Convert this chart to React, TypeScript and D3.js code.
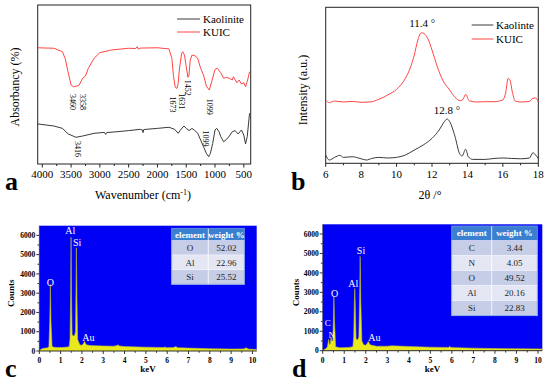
import React from 'react';
import * as d3 from 'd3';

// ---------- Panel a: FTIR ----------
const irTicks = [4000, 3500, 3000, 2500, 2000, 1500, 1000, 500];
const irKUIC: [number, number][] = [
  [4080, 73.1], [3800, 72.8], [3650, 70.6], [3600, 66], [3560, 59], [3500, 49.7], [3460, 48.6], [3400, 49],
  [3358, 49.7], [3300, 53.9], [3250, 55.3], [3200, 60.2], [3100, 66.5], [3000, 70], [2800, 71.7],
  [2500, 72.8], [2380, 72.6], [2350, 73.8], [2330, 72.2], [2300, 72.9], [2000, 73.1], [1800, 72.4],
  [1750, 66.5], [1720, 54.9], [1690, 48.2], [1660, 47.6], [1640, 50.7], [1620, 59.1], [1580, 69.6],
  [1560, 70.6], [1530, 68.5], [1500, 61.2], [1470, 54.5], [1452, 56], [1430, 65.4], [1400, 68.5],
  [1350, 68.1], [1300, 66.5], [1250, 60.2], [1200, 56], [1150, 49], [1099, 46.5], [1050, 52.8],
  [1000, 59.5], [960, 60.2], [900, 57.4], [850, 53.9], [800, 54.5], [750, 53.9], [700, 52.8],
  [680, 54.9], [620, 51.1], [580, 52.8], [540, 50.3], [500, 51.1], [470, 48.6], [440, 51.8], [400, 58],
];
const irKaolinite: [number, number][] = [
  [4080, 25.2], [3800, 23.9], [3650, 22.4], [3550, 18.9], [3416, 16.8], [3300, 17.6], [3100, 19.3],
  [2920, 19.9], [2900, 18.6], [2880, 19.8], [2700, 20.3], [2500, 21], [2300, 21.8], [2260, 21.4],
  [2250, 19.7], [2240, 21.6], [2200, 21.8], [2000, 22.4], [1800, 23.1], [1700, 21.8], [1640, 19.3],
  [1600, 21.4], [1540, 23.9], [1500, 22.4], [1450, 21], [1400, 22.4], [1350, 21], [1300, 19.3],
  [1250, 15.1], [1200, 10.9], [1150, 6.7], [1110, 4.6], [1080, 6.7], [1040, 13], [1000, 21.4],
  [970, 22.4], [930, 20.3], [900, 17.2], [850, 14], [800, 15.5], [750, 17.6], [700, 20.3],
  [650, 21], [600, 18.9], [540, 21.4], [500, 18.2], [470, 12.6], [440, 17.2], [400, 31.9],
];
const irKUICLabels: [string, number, number][] = [
  ['3460', 3470, 44], ['3358', 3290, 44], ['1673', 1730, 42.5], ['1631', 1580, 44.5],
  ['1452', 1470, 53], ['1099', 1090, 41],
];
const irKaoLabels: [string, number, number][] = [['3416', 3380, 14.5], ['1099', 1160, 21]];

// ---------- Panel b: XRD ----------
const xrdTicks = [6, 8, 10, 12, 14, 16, 18];
const xrdKUIC: [number, number][] = [
  [6.0, 40.6], [6.2, 38.9], [6.5, 39.9], [7.0, 39.3], [7.5, 39.7], [8.0, 39.1], [8.5, 39.3], [9.0, 41],
  [9.5, 43.8], [10.0, 47.4], [10.5, 54.5], [10.8, 62], [11.0, 69.4], [11.2, 79], [11.4, 83.7],
  [11.6, 82.7], [11.8, 79], [12.0, 72.6], [12.3, 61.9], [12.6, 53.4], [13.0, 47], [13.3, 42.3],
  [13.6, 40.1], [13.75, 41], [13.9, 44.2], [14.1, 40.1], [14.5, 39.3], [15.0, 39.5], [15.5, 39.5],
  [16.0, 40.6], [16.15, 44.8], [16.3, 54.5], [16.4, 53.4], [16.55, 44.8], [16.7, 39.9], [17.0, 39.3],
  [17.5, 39.7], [17.7, 41.7], [17.85, 41.9], [18.0, 39.3],
];
const xrdKaolinite: [number, number][] = [
  [6.0, 5.3], [6.2, 2.1], [6.5, 3.8], [6.8, 5.1], [7.0, 3.8], [7.5, 4.2], [8.0, 2.9], [8.3, 2.1],
  [8.6, 3.1], [9.0, 3.8], [9.5, 3.4], [10.0, 3.8], [10.5, 5.3], [11.0, 8.5], [11.5, 11.7], [12.0, 16],
  [12.4, 21.3], [12.7, 26.7], [12.85, 28.4], [13.0, 26.7], [13.3, 17.1], [13.55, 6.4], [13.7, 4.7],
  [13.9, 9], [14.05, 4.2], [14.3, 2.5], [15.0, 2.5], [15.5, 3.1], [16.0, 3.4], [16.5, 3.1], [17.0, 2.9],
  [17.5, 3.4], [17.7, 6.8], [17.85, 5.3], [18.0, 3.1],
];

// ---------- Panels c, d: EDS ----------
const edsXTicks = [0, 1, 2, 3, 4, 5, 6, 7, 8, 9, 10];
const edsYTicks = [0, 1000, 2000, 3000, 4000, 5000, 6000];
const edsC: [number, number][] = [
  [0, 0], [0.05, 60], [0.1, 100], [0.2, 140], [0.3, 150], [0.4, 170], [0.45, 230], [0.49, 1500],
  [0.52, 3450], [0.55, 1500], [0.6, 230], [0.7, 190], [0.9, 180], [1.2, 190], [1.4, 220], [1.44, 600],
  [1.47, 3000], [1.49, 5900], [1.51, 3000], [1.54, 850], [1.6, 780], [1.66, 820], [1.7, 1000],
  [1.72, 3000], [1.74, 5350], [1.77, 2500], [1.8, 600], [1.9, 320], [2.0, 300], [2.07, 380],
  [2.12, 500], [2.2, 330], [2.4, 280], [3, 260], [3.5, 250], [3.65, 280], [3.7, 330], [3.75, 260],
  [4, 230], [5, 200], [5.85, 180], [5.9, 220], [5.95, 170], [6.3, 180], [6.4, 230], [6.5, 170],
  [7, 150], [8, 120], [9, 100], [9.6, 110], [9.7, 170], [9.8, 100], [10.2, 80],
];
const edsD: [number, number][] = [
  [0, 0], [0.05, 50], [0.15, 100], [0.22, 200], [0.26, 500], [0.28, 580], [0.31, 300], [0.35, 350],
  [0.39, 700], [0.42, 500], [0.47, 500], [0.5, 1800], [0.52, 2800], [0.55, 1500], [0.6, 200],
  [0.8, 150], [1.2, 170], [1.4, 200], [1.44, 700], [1.47, 2500], [1.49, 3200], [1.51, 2500],
  [1.55, 600], [1.62, 550], [1.68, 700], [1.72, 3000], [1.74, 4850], [1.77, 2500], [1.82, 500],
  [1.9, 300], [2.0, 280], [2.07, 380], [2.12, 470], [2.2, 300], [2.5, 230], [3.0, 230], [3.2, 250],
  [4, 220], [5, 180], [5.85, 170], [5.9, 230], [5.95, 160], [7, 130], [8, 110], [9, 100], [10.2, 90],
];
const edsCPeakLabels: [string, number, number, number][] = [['O', 0.52, 3550, 10], ['Al', 1.45, 6250, 10], ['Si', 1.78, 5650, 10], ['Au', 2.3, 700, 10]];
const edsDPeakLabels: [string, number, number, number][] = [['C', 0.24, 1420, 9], ['N', 0.42, 800, 9], ['O', 0.55, 2950, 10], ['Al', 1.42, 3430, 10], ['Si', 1.78, 5150, 10], ['Au', 2.4, 700, 10]];
const tableCElements = ['O', 'Al', 'Si'];
const tableCWeights = ['52.02', '22.96', '25.52'];
const tableDElements = ['C', 'N', 'O', 'Al', 'Si'];
const tableDWeights = ['3.44', '4.05', '49.52', '20.16', '22.83'];

const FONT = "'Liberation Serif', 'Times New Roman', serif";
const RED = '#ff4545';
const DARK = '#3a3a3a';

function PanelA() {
  const x = d3.scaleLinear().domain([4080, 380]).range([37.7, 250.7]);
  const y = d3.scaleLinear().domain([0, 100]).range([164, 5]);
  const line = d3.line<[number, number]>().x(d => x(d[0])).y(d => y(d[1]));
  const minor = d3.range(3750, 380, -500);
  return (
    <g>
      <rect x={37.7} y={5} width={213} height={159} fill="none" stroke="#222" strokeWidth={1} />
      <path d={line(irKaolinite) || ''} fill="none" stroke={DARK} strokeWidth={1} />
      <path d={line(irKUIC) || ''} fill="none" stroke={RED} strokeWidth={1} />
      {irTicks.map(t => (
        <g key={t}>
          <line x1={x(t)} x2={x(t)} y1={164} y2={167.5} stroke="#222" />
          <text x={x(t)} y={178} fontSize={11} textAnchor="middle" fontFamily={FONT}>{t}</text>
        </g>
      ))}
      {minor.map(t => <line key={t} x1={x(t)} x2={x(t)} y1={164} y2={166} stroke="#222" />)}
      {irKUICLabels.map(([s, wn, v]) => (
        <text key={'k' + s} transform={`translate(${x(wn)},${y(v)}) rotate(90)`} dy="0.35em" fontSize={8} fontFamily={FONT}>{s}</text>
      ))}
      {irKaoLabels.map(([s, wn, v]) => (
        <text key={'o' + s} transform={`translate(${x(wn)},${y(v)}) rotate(90)`} dy="0.35em" fontSize={8} fontFamily={FONT}>{s}</text>
      ))}
      <line x1={177} x2={200} y1={19} y2={19} stroke={DARK} />
      <text x={203} y={23} fontSize={11} fontFamily={FONT}>Kaolinite</text>
      <line x1={177} x2={200} y1={32} y2={32} stroke={RED} />
      <text x={203} y={36} fontSize={11} fontFamily={FONT}>KUIC</text>
      <text transform="translate(15,87) rotate(-90)" dy="0.35em" textAnchor="middle" fontSize={12} fontFamily={FONT}>Absorbancy (%)</text>
      <text x={143} y={199} textAnchor="middle" fontSize={12} fontFamily={FONT}>Wavenumber (cm<tspan dy={-4} fontSize={8}>-1</tspan><tspan dy={4}>)</tspan></text>
      <text x={5} y={190} fontSize={26} fontWeight="bold" fontFamily={FONT}>a</text>
    </g>
  );
}

function PanelB() {
  const x = d3.scaleLinear().domain([6, 18]).range([325.7, 538.3]);
  const y = d3.scaleLinear().domain([0, 100]).range([163.3, 7.3]);
  const gen = d3.line<[number, number]>().x(d => x(d[0])).y(d => y(d[1])).curve(d3.curveMonotoneX);
  const minor = d3.range(7, 18, 2);
  return (
    <g>
      <rect x={325.7} y={7.3} width={212.6} height={156} fill="none" stroke="#222" strokeWidth={1} />
      <path d={gen(xrdKaolinite) || ''} fill="none" stroke={DARK} strokeWidth={1} />
      <path d={gen(xrdKUIC) || ''} fill="none" stroke={RED} strokeWidth={1} />
      {xrdTicks.map(t => (
        <g key={t}>
          <line x1={x(t)} x2={x(t)} y1={163.3} y2={166.8} stroke="#222" />
          <text x={x(t)} y={178} fontSize={11} textAnchor="middle" fontFamily={FONT}>{t}</text>
        </g>
      ))}
      {minor.map(t => <line key={t} x1={x(t)} x2={x(t)} y1={163.3} y2={165.3} stroke="#222" />)}
      <text x={x(11.45)} y={27} textAnchor="middle" fontSize={11} fontFamily={FONT}>11.4 °</text>
      <text x={x(12.85)} y={114} textAnchor="middle" fontSize={11} fontFamily={FONT}>12.8 °</text>
      <line x1={471.7} x2={493.3} y1={25} y2={25} stroke={DARK} />
      <text x={496} y={29} fontSize={11} fontFamily={FONT}>Kaolinte</text>
      <line x1={471.7} x2={493.3} y1={39} y2={39} stroke={RED} />
      <text x={496} y={43} fontSize={11} fontFamily={FONT}>KUIC</text>
      <text transform="translate(303,90) rotate(-90)" dy="0.35em" textAnchor="middle" fontSize={12} fontFamily={FONT}>Intensity (a.u.)</text>
      <text x={430} y={199} textAnchor="middle" fontSize={12} fontFamily={FONT}>2θ /°</text>
      <text x={291} y={190} fontSize={26} fontWeight="bold" fontFamily={FONT}>b</text>
    </g>
  );
}

function EDS(props: {
  x0: number; x1: number; y0: number; yTop: number; data: [number, number][];
  peaks: [string, number, number, number][]; elements: string[]; weights: string[];
  tx: number[]; tTop: number; headH: number; rowH: number; letter: string; letterX: number; countsX: number;
}) {
  const { x0, x1, y0, yTop, data, peaks, elements, weights, tx, tTop, headH, rowH, letter, letterX, countsX } = props;
  const x = d3.scaleLinear().domain([0, 10.2]).range([x0, x1]);
  const y = d3.scaleLinear().domain([0, 6500]).range([y0, yTop]);
  const area = d3.area<[number, number]>().x(d => x(d[0])).y0(y0).y1(d => y(d[1]));
  const line = d3.line<[number, number]>().x(d => x(d[0])).y(d => y(d[1]));
  const minorX = d3.range(0.5, 10.2, 1);
  const minorY = d3.range(500, 6500, 1000);
  return (
    <g fontFamily={FONT}>
      <rect x={x0} y={yTop} width={x1 - x0} height={y0 - yTop} fill="#0000f5" />
      <path d={area(data) || ''} fill="#e8e81c" />
      <path d={line(data) || ''} fill="none" stroke="#b8b838" strokeWidth={0.6} />
      <line x1={x0} x2={x1} y1={y0} y2={y0} stroke="#333" strokeWidth={1} />
      <line x1={x0} x2={x0} y1={y0} y2={yTop} stroke="#333" strokeWidth={0.6} />
      {edsXTicks.map(t => (
        <g key={t}>
          <line x1={x(t)} x2={x(t)} y1={y0} y2={y0 + 3} stroke="#333" />
          <text x={x(t)} y={y0 + 12} fontSize={7.5} fontWeight="bold" textAnchor="middle">{t}</text>
        </g>
      ))}
      {minorX.map(t => <line key={t} x1={x(t)} x2={x(t)} y1={y0} y2={y0 + 1.8} stroke="#333" />)}
      {edsYTicks.map(t => (
        <g key={t}>
          <line x1={x0 - 3} x2={x0} y1={y(t)} y2={y(t)} stroke="#333" />
          <text x={x0 - 4} y={y(t)} dy="0.35em" fontSize={7.5} fontWeight="bold" textAnchor="end">{t}</text>
        </g>
      ))}
      {minorY.map(t => <line key={t} x1={x0 - 1.8} x2={x0} y1={y(t)} y2={y(t)} stroke="#333" />)}
      {peaks.map(([s, kv, c, fs]) => (
        <text key={s} x={x(kv)} y={y(c)} dy="0.35em" fontSize={fs} fill="#ffffff" textAnchor="middle">{s}</text>
      ))}
      <rect x={tx[0]} y={tTop} width={tx[2] - tx[0]} height={headH} fill="#3a7fd0" />
      <text x={(tx[0] + tx[1]) / 2} y={tTop + headH / 2} dy="0.35em" fontSize={9} fontWeight="bold" fill="#fff" textAnchor="middle">element</text>
      <text x={(tx[1] + tx[2]) / 2} y={tTop + headH / 2} dy="0.35em" fontSize={9} fontWeight="bold" fill="#fff" textAnchor="middle">weight %</text>
      {elements.map((el, i) => {
        const ry = tTop + headH + i * rowH;
        return (
          <g key={el}>
            <rect x={tx[0]} y={ry} width={tx[2] - tx[0]} height={rowH} fill={i % 2 === 0 ? '#c6cde6' : '#e4e7f3'} stroke="#ffffff" strokeWidth={0.6} />
            <text x={(tx[0] + tx[1]) / 2} y={ry + rowH / 2} dy="0.35em" fontSize={9} fill="#222" textAnchor="middle">{el}</text>
            <text x={(tx[1] + tx[2]) / 2} y={ry + rowH / 2} dy="0.35em" fontSize={9} fill="#222" textAnchor="middle">{weights[i]}</text>
          </g>
        );
      })}
      <line x1={tx[1]} x2={tx[1]} y1={tTop} y2={tTop + headH + elements.length * rowH} stroke="#ffffff" strokeWidth={0.8} />
      <rect x={tx[0]} y={tTop} width={tx[2] - tx[0]} height={headH + elements.length * rowH} fill="none" stroke="#6f9be0" strokeWidth={0.8} />
      <text transform={`translate(${countsX},${(y0 + yTop) / 2 + 5}) rotate(-90)`} dy="0.35em" textAnchor="middle" fontSize={9} fontWeight="bold">Counts</text>
      <text x={(x0 + x1) / 2} y={y0 + 21} textAnchor="middle" fontSize={9} fontWeight="bold">keV</text>
      <text x={letterX} y={377} fontSize={26} fontWeight="bold">{letter}</text>
    </g>
  );
}

export default function App() {
  return (
    <svg width={550} height={383} style={{ position: 'absolute', left: 0, top: 0, background: '#fff' }}>
      <rect width={550} height={383} fill="#fff" />
      <PanelA />
      <PanelB />
      <EDS x0={39.3} x1={256.7} y0={351} yTop={225.7} data={edsC} peaks={edsCPeakLabels}
        elements={tableCElements} weights={tableCWeights} tx={[171.7, 208.3, 244.3]} tTop={228.3}
        headH={12.2} rowH={14.6} letter="c" letterX={5} countsX={11} />
      <EDS x0={322.7} x1={542.3} y0={350.7} yTop={224.3} data={edsD} peaks={edsDPeakLabels}
        elements={tableDElements} weights={tableDWeights} tx={[451.7, 491.7, 537.3]} tTop={226}
        headH={14.5} rowH={15.04} letter="d" letterX={292} countsX={295.7} />
    </svg>
  );
}
